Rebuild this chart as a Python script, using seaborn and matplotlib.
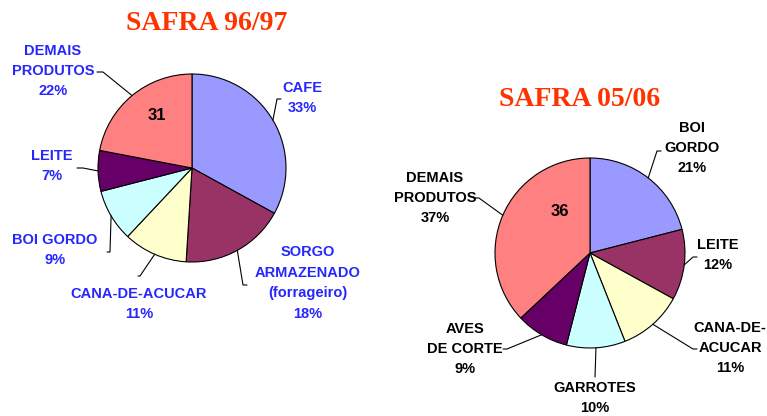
import numpy as np
import seaborn as sns
from matplotlib import pyplot as plt

# dados das duas safras
left_title = 'SAFRA 96/97'
left_labels = ['CAFE', 'SORGO\nARMAZENADO\n(forrageiro)', 'CANA-DE-ACUCAR',
               'BOI GORDO', 'LEITE', 'DEMAIS\nPRODUTOS']
left_values = [33, 18, 11, 9, 7, 22]
left_inner = '31'

right_title = 'SAFRA 05/06'
right_labels = ['BOI\nGORDO', 'LEITE', 'CANA-DE-\nACUCAR', 'GARROTES',
                'AVES\nDE CORTE', 'DEMAIS\nPRODUTOS']
right_values = [21, 12, 11, 10, 9, 37]
right_inner = '36'

colors = ['#9999FF', '#993366', '#FFFFCC', '#CCFFFF', '#660066', '#FF8080']

sns.set_theme(style='white')
plt.rcParams['font.family'] = ['Liberation Sans', 'DejaVu Sans']

W, H = 767, 416
fig = plt.figure(figsize=(W / 100, H / 100), dpi=100)
ax = fig.add_axes([0, 0, 1, 1])
ax.set_xlim(0, W)
ax.set_ylim(0, H)
ax.set_aspect('equal')
ax.axis('off')


def Y(y):
    # coordenada y da imagem -> y do eixo
    return H - y


def draw_pie(values, labels, center, radius, text_pos, anchors, txt_color,
             inner, inner_pos, title, title_pos):
    wedges, _ = ax.pie(values, colors=colors, startangle=90, counterclock=False,
                       center=(center[0], Y(center[1])), radius=radius,
                       wedgeprops=dict(edgecolor='black', linewidth=0.8))
    for w, lab, val, tp, an in zip(wedges, labels, values, text_pos, anchors):
        ang = np.deg2rad((w.theta1 + w.theta2) / 2)
        ex = w.center[0] + w.r * np.cos(ang)
        ey = w.center[1] + w.r * np.sin(ang)
        # linha guia com pequeno cotovelo horizontal
        x0, y0, dx = an
        ax.plot([x0, x0 + dx, ex], [Y(y0), Y(y0), ey], color='black', lw=0.8)
        ax.text(tp[0], Y(tp[1]), f'{lab}\n{val}%', ha='center', va='center',
                fontsize=10.5, fontweight='bold', color=txt_color,
                linespacing=1.58, multialignment='center')
    ax.text(inner_pos[0], Y(inner_pos[1]), inner, ha='center', va='center',
            fontsize=12, fontweight='bold', color='black')
    ax.text(title_pos[0], Y(title_pos[1]), title, ha='center', va='center',
            fontsize=20, fontweight='bold', color='#FF3300',
            family='Liberation Serif')


draw_pie(left_values, left_labels, (192, 168), 94,
         [(302, 98), (308, 283), (139, 304), (55, 250), (52, 166), (53, 71)],
         [(281, 99, -4), (247, 285, -4), (138, 276, 2), (107, 252, 3),
          (77, 168, 6), (97, 72, 6)],
         '#2626FF', left_inner, (157, 116), left_title, (207, 23))

draw_pie(right_values, right_labels, (590, 253), 95,
         [(692, 148), (718, 255), (730, 348), (595, 398), (465, 349), (435, 198)],
         [(661, 151, -4), (697, 257, -4), (697, 349, -4), (595, 377, 0),
          (503, 349, 4), (474, 198, 5)],
         'black', right_inner, (560, 211), right_title, (580, 100))

ax.set_xlim(0, W)
ax.set_ylim(0, H)
fig.savefig('out.png', dpi=100)
